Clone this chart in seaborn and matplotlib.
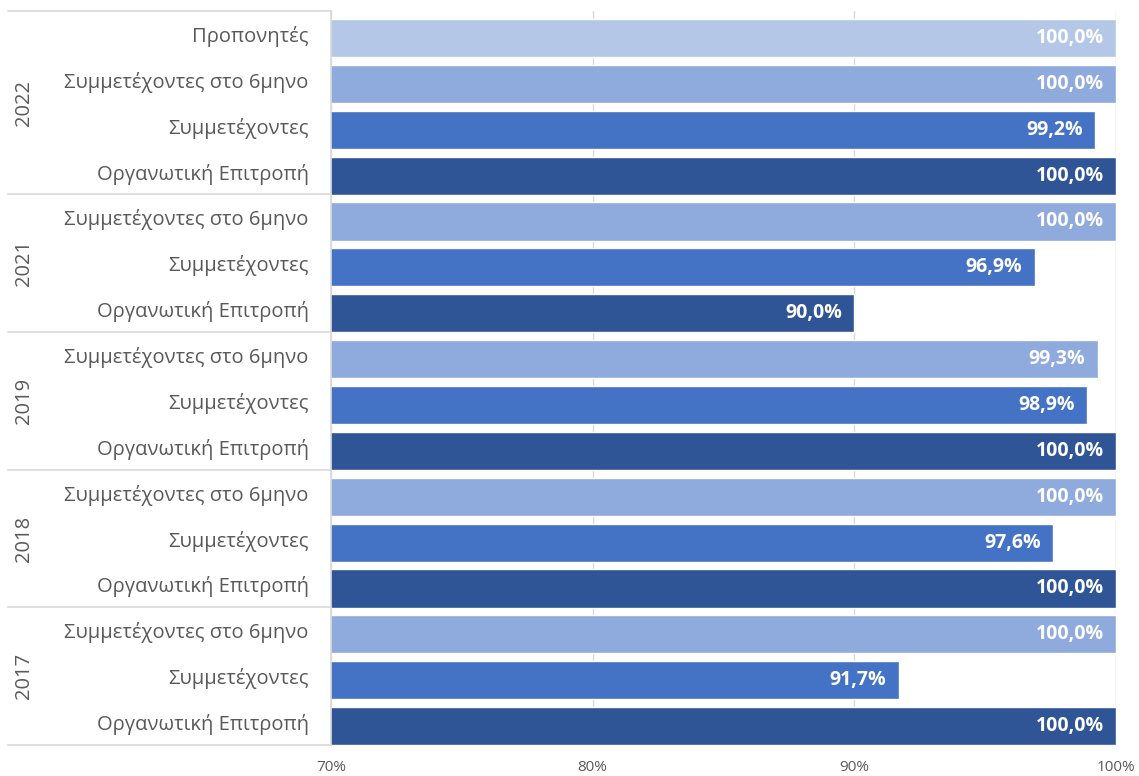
import matplotlib
matplotlib.use("Agg")
import matplotlib.pyplot as plt
import matplotlib.transforms as mtransforms
import seaborn as sns
import pandas as pd

years = ["2022", "2022", "2022", "2022",
         "2021", "2021", "2021",
         "2019", "2019", "2019",
         "2018", "2018", "2018",
         "2017", "2017", "2017"]
roles = ["Προπονητές", "Συμμετέχοντες στο 6μηνο", "Συμμετέχοντες", "Οργανωτική Επιτροπή",
         "Συμμετέχοντες στο 6μηνο", "Συμμετέχοντες", "Οργανωτική Επιτροπή",
         "Συμμετέχοντες στο 6μηνο", "Συμμετέχοντες", "Οργανωτική Επιτροπή",
         "Συμμετέχοντες στο 6μηνο", "Συμμετέχοντες", "Οργανωτική Επιτροπή",
         "Συμμετέχοντες στο 6μηνο", "Συμμετέχοντες", "Οργανωτική Επιτροπή"]
values = [100.0, 100.0, 99.2, 100.0,
          100.0, 96.9, 90.0,
          99.3, 98.9, 100.0,
          100.0, 97.6, 100.0,
          100.0, 91.7, 100.0]
x_ticks = [70, 80, 90, 100]
x_tick_labels = ["70%", "80%", "90%", "100%"]
palette = {"Προπονητές": "#B4C7E7",
           "Συμμετέχοντες στο 6μηνο": "#8FAADC",
           "Συμμετέχοντες": "#4472C4",
           "Οργανωτική Επιτροπή": "#2F5597"}

sns.set_theme(style="white")
plt.rcParams['font.family'] = ['Open Sans', 'DejaVu Sans']

df = pd.DataFrame({"year": years, "role": roles, "value": values})
df["row"] = [f"{i:02d}" for i in range(len(df))]

fig = plt.figure(figsize=(11.39, 7.76), dpi=100)
ax = fig.add_axes([331/1139, 1-745/776, (1116-331)/1139, (745-11)/776])

sns.barplot(data=df, y="row", x="value", hue="role", palette=palette,
            dodge=False, width=0.83, legend=False, ax=ax, orient="h",
            saturation=1)

n = len(df)
d = -0.088  # bars sit slightly low within each row
ax.set_xlim(70, 100)
ax.set_ylim(n - 0.5 + d, -0.5 + d)
ax.set_xticks(x_ticks)
ax.set_xticklabels(x_tick_labels, fontsize=11, color="#595959")
ax.tick_params(axis="x", length=0, pad=11)
ax.set_yticks([i + d for i in range(n)])
ax.set_yticklabels(roles, fontsize=14.5, color="#595959")
ax.tick_params(axis="y", length=0, pad=16)
ax.set_xlabel("")
ax.set_ylabel("")
ax.grid(axis="x", color="#D9D9D9", linewidth=1)
ax.set_axisbelow(True)
for s in ["top", "right", "bottom"]:
    ax.spines[s].set_visible(False)
ax.spines["left"].set_color("#D9D9D9")

for i, v in enumerate(values):
    ax.annotate(f"{v:.1f}%".replace(".", ","), xy=(v, i), xytext=(-9, 0),
                textcoords="offset points", ha="right", va="center",
                color="white", fontsize=14, fontweight="bold")

# group separators and year labels
trans = mtransforms.blended_transform_factory(fig.transFigure, ax.transData)
x0 = 8/1139
x1 = 331/1139
bounds = []
start = 0
for i in range(1, len(years) + 1):
    if i == len(years) or years[i] != years[start]:
        bounds.append((start, i - 1, years[start]))
        start = i
edges = [-0.5] + [b[1] + 0.5 for b in bounds]
for e in edges:
    ax.plot([x0, x1], [e + d, e + d], transform=trans, color="#D9D9D9", lw=1.2,
            clip_on=False)
for s, e, y in bounds:
    ax.text(24/1139, (s + e) / 2 + d, y, transform=trans, rotation=90,
            ha="center", va="center", fontsize=14.5, color="#595959")

fig.savefig("out.png", dpi=100)
